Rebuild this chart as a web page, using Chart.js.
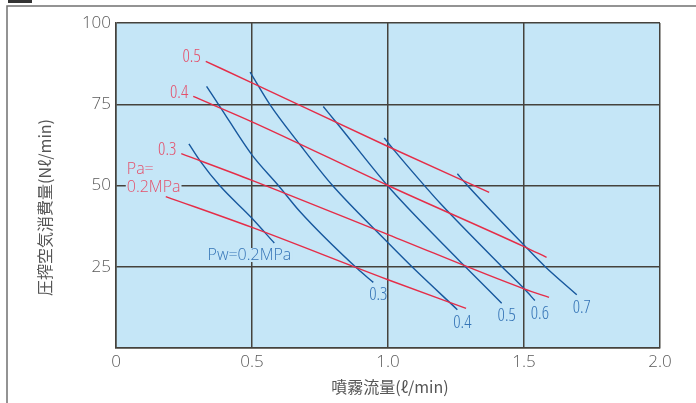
<!DOCTYPE html>
<html>
<head>
<meta charset="utf-8">
<script src="https://cdn.jsdelivr.net/npm/chart.js@4.4.1/dist/chart.umd.min.js"></script>
<style>
  html, body { margin: 0; padding: 0; background: #fff; }
  #wrap { width: 696px; height: 403px; }
</style>
</head>
<body>
<div id="wrap"><canvas id="sprayChart" width="696" height="403"></canvas></div>
<script>
// 噴霧流量 (ℓ/min) on x, 圧搾空気消費量 (Nℓ/min) on y
const xTickLabels = ['0', '0.5', '1.0', '1.5', '2.0'];
const yTickLabels = ['', '25', '50', '75', '100'];

// air pressure Pa (red lines)
const paNames = ['0.2MPa', '0.3', '0.4', '0.5'];
const pa02X = [0.183, 0.50, 1.00, 1.287];
const pa02Y = [46.6, 37.1, 21.0, 12.2];
const pa03X = [0.24, 0.50, 1.00, 1.50, 1.592];
const pa03Y = [59.8, 51.6, 34.9, 18.2, 15.6];
const pa04X = [0.284, 0.50, 1.00, 1.50, 1.583];
const pa04Y = [77.4, 69.6, 50.0, 31.2, 27.9];
const pa05X = [0.33, 0.50, 1.00, 1.372];
const pa05Y = [88.2, 81.6, 62.0, 47.9];

// water pressure Pw (blue curves)
const pwNames = ['Pw=0.2MPa', '0.3', '0.4', '0.5', '0.6', '0.7'];
const pw02X = [0.268, 0.309, 0.382, 0.499, 0.582];
const pw02Y = [62.8, 57.6, 49.9, 40.0, 32.3];
const pw03X = [0.333, 0.382, 0.499, 0.597, 0.676, 0.885, 0.946];
const pw03Y = [80.5, 74.3, 59.5, 50.0, 42.0, 24.6, 20.2];
const pw04X = [0.493, 0.566, 0.676, 0.793, 1.001, 1.093, 1.255];
const pw04Y = [84.9, 74.9, 62.6, 50.3, 32.3, 24.6, 11.8];
const pw05X = [0.762, 0.817, 1.001, 1.210, 1.287, 1.418];
const pw05Y = [74.3, 68.7, 49.7, 31.3, 24.8, 13.8];
const pw06X = [0.986, 1.026, 1.142, 1.191, 1.418, 1.501, 1.540];
const pw06Y = [64.6, 60.5, 49.2, 44.6, 25.1, 18.2, 14.6];
const pw07X = [1.255, 1.289, 1.504, 1.577, 1.694];
const pw07Y = [53.6, 50.3, 31.3, 25.1, 16.4];

const RED = '#e52d48';
const BLUE = '#17589e';
const RED_TXT = '#e4506b';
const BLUE_TXT = '#3574b6';
const PLOT_BG = '#c5e6f7';
const GRID = '#45423d';
const NUM_FAMILY = "'Open Sans', 'Liberation Sans', sans-serif";
const NUM_FONT = 'condensed 300 18px ' + NUM_FAMILY;
const WORD_FONT = '300 16px ' + NUM_FAMILY;
const CJK_FONT = "'Noto Sans CJK JP', sans-serif";

const pts = (xs, ys) => xs.map((x, i) => ({ x, y: ys[i] }));

const paSeries = [[pa02X, pa02Y], [pa03X, pa03Y], [pa04X, pa04Y], [pa05X, pa05Y]];
const pwSeries = [[pw02X, pw02Y], [pw03X, pw03Y], [pw04X, pw04Y], [pw05X, pw05Y], [pw06X, pw06Y], [pw07X, pw07Y]];

const datasets = [];
paSeries.forEach((s, i) => datasets.push({
  label: paNames[i], kind: 'pa', data: pts(s[0], s[1]),
  borderColor: RED, borderWidth: 1.4, pointRadius: 0, cubicInterpolationMode: 'monotone'
}));
pwSeries.forEach((s, i) => datasets.push({
  label: pwNames[i], kind: 'pw', data: pts(s[0], s[1]),
  borderColor: BLUE, borderWidth: 1.4, pointRadius: 0, cubicInterpolationMode: 'monotone'
}));

const backdrop = {
  id: 'backdrop',
  beforeDraw(chart) {
    const c = chart.ctx, a = chart.chartArea;
    c.save();
    c.fillStyle = '#fff';
    c.fillRect(0, 0, chart.width, chart.height);
    c.fillStyle = PLOT_BG;
    c.fillRect(a.left, a.top, a.right - a.left, a.bottom - a.top);
    c.restore();
  }
};

function tag(c, text, x, y, align, color, bg) {
  c.textAlign = align;
  if (bg) {
    const w = c.measureText(text).width;
    const x0 = align === 'left' ? x : align === 'right' ? x - w : x - w / 2;
    c.fillStyle = PLOT_BG;
    c.fillRect(x0 - 1, y - 7, w + 2, 14);
  }
  c.fillStyle = color;
  c.fillText(text, x, y);
}

const curveLabels = {
  id: 'curveLabels',
  afterDatasetsDraw(chart) {
    const c = chart.ctx;
    c.save();
    c.textBaseline = 'middle';
    chart.data.datasets.forEach((ds, i) => {
      const els = chart.getDatasetMeta(i).data;
      const first = els[0], last = els[els.length - 1];
      if (ds.kind === 'pa') {
        if (ds.label === '0.2MPa') {
          c.font = WORD_FONT;
          tag(c, 'Pa=', first.x - 39, first.y - 27, 'left', RED_TXT, true);
          tag(c, '0.2MPa', first.x - 39, first.y - 9, 'left', RED_TXT, true);
        } else {
          c.font = NUM_FONT;
          tag(c, ds.label, first.x - 5, first.y - 4, 'right', RED_TXT, false);
        }
      } else {
        if (ds.label.startsWith('Pw')) {
          c.font = WORD_FONT;
          tag(c, ds.label, last.x + 17, last.y + 12, 'right', BLUE_TXT, true);
        } else {
          c.font = NUM_FONT;
          tag(c, ds.label, last.x + 5, last.y + 13, 'center', BLUE_TXT, false);
        }
      }
    });
    c.restore();
  },
  afterDraw(chart) {
    const c = chart.ctx, a = chart.chartArea;
    c.save();
    // page frame
    c.strokeStyle = '#707070';
    c.lineWidth = 1.5;
    c.beginPath();
    c.moveTo(7, chart.height);
    c.lineTo(7, 6);
    c.lineTo(chart.width, 6);
    c.stroke();
    c.fillStyle = '#333';
    c.fillRect(8, 0, 24, 3);
    // axis titles
    c.fillStyle = '#555';
    c.font = '16px ' + CJK_FONT;
    c.textAlign = 'center';
    c.textBaseline = 'middle';
    c.fillText('噴霧流量(ℓ/min)', (a.left + a.right) / 2 + 2, a.bottom + 39);
    c.translate(a.left - 71, (a.top + a.bottom) / 2 + 22);
    c.rotate(-Math.PI / 2);
    c.fillText('圧搾空気消費量(Nℓ/min)', 0, 0);
    c.restore();
  }
};

const tickFont = { family: NUM_FAMILY, size: 17, weight: 300, style: 'condensed' };

new Chart(document.getElementById('sprayChart'), {
  type: 'line',
  data: { datasets },
  options: {
    responsive: false,
    animation: false,
    layout: { padding: { top: 23, right: 36, left: 0, bottom: 0 } },
    plugins: { legend: { display: false }, tooltip: { enabled: false } },
    scales: {
      x: {
        type: 'linear', min: 0, max: 2,
        afterFit: s => { s.height = 55; },
        afterBuildTicks: s => { s.ticks = xTickLabels.map((t, i) => ({ value: i * 0.5 })); },
        ticks: { callback: (v, i) => xTickLabels[i], color: '#5a5a5a', padding: 4, font: tickFont },
        grid: { color: GRID, lineWidth: 1.5, drawTicks: false },
        border: { color: GRID, width: 1.5 }
      },
      y: {
        min: 0, max: 100,
        afterFit: s => { s.width = 116; },
        afterBuildTicks: s => { s.ticks = yTickLabels.map((t, i) => ({ value: i * 25 })); },
        ticks: { callback: (v, i) => yTickLabels[i], color: '#5a5a5a', padding: 5, font: tickFont },
        grid: { color: GRID, lineWidth: 1.5, drawTicks: false },
        border: { color: GRID, width: 1.5 }
      }
    }
  },
  plugins: [backdrop, curveLabels]
});
</script>
</body>
</html>
